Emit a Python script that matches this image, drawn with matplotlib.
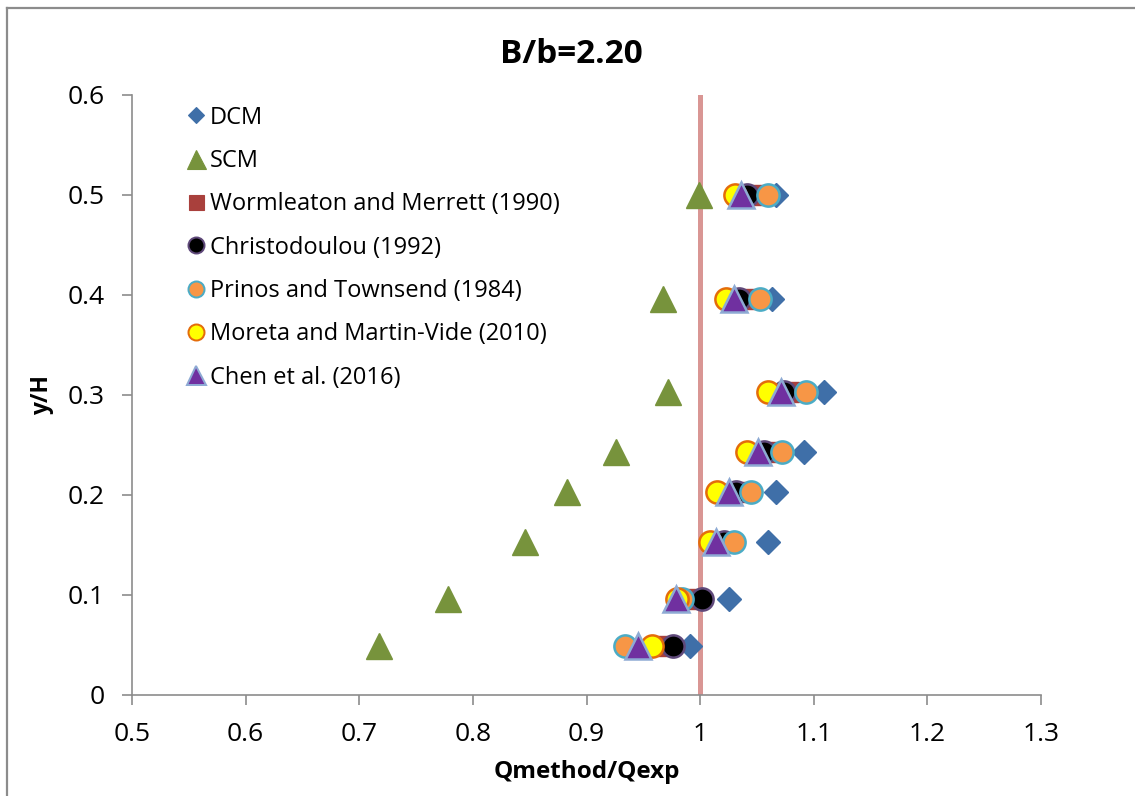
import matplotlib
matplotlib.use('Agg')
import matplotlib.pyplot as plt
from matplotlib.lines import Line2D

plt.rcParams['font.family'] = ['Open Sans', 'DejaVu Sans']

# relative depth y/H for each measured point
yH = [0.049, 0.096, 0.153, 0.203, 0.243, 0.303, 0.396, 0.500]

# Qmethod/Qexp for each method
dcm = [0.991, 1.025, 1.060, 1.067, 1.091, 1.109, 1.063, 1.067]
scm = [0.717, 0.778, 0.846, 0.883, 0.926, 0.972, 0.967, 0.999]
wormleaton = [0.967, 0.990, 1.025, 1.035, 1.058, 1.078, 1.040, 1.049]
christodoulou = [0.976, 1.002, 1.021, 1.032, 1.056, 1.074, 1.034, 1.041]
prinos = [0.934, 0.984, 1.030, 1.045, 1.072, 1.093, 1.053, 1.060]
moreta = [0.958, 0.980, 1.009, 1.015, 1.041, 1.060, 1.023, 1.031]
chen = [0.945, 0.979, 1.014, 1.025, 1.051, 1.071, 1.030, 1.036]

labels = ['DCM', 'SCM', 'Wormleaton and Merrett (1990)', 'Christodoulou (1992)',
          'Prinos and Townsend (1984)', 'Moreta and Martin-Vide (2010)',
          'Chen et al. (2016)']

# marker, size, face, edge, edge width
styles = [
    ('D', 12, '#3f6fa8', '#3f6fa8', 1.0),
    ('^', 19, '#77933c', '#77933c', 1.0),
    ('s', 15, '#a9403c', '#a9403c', 1.0),
    ('o', 16, '#000000', '#5f497a', 1.8),
    ('o', 16, '#f79646', '#4bacc6', 1.8),
    ('o', 16, '#ffff00', '#e46c0a', 1.8),
    ('^', 19, '#7030a0', '#8eaad4', 1.8),
]
series = [dcm, scm, wormleaton, christodoulou, prinos, moreta, chen]

fig = plt.figure(figsize=(11.35, 7.96), dpi=100)
ax = fig.add_axes([0.1163, 0.1269, 0.8009, 0.7538])

# reference line Qmethod = Qexp
ax.axvline(1.0, color='#d99694', lw=3.6, zorder=1)

for vals, (m, ms, fc, ec, ew) in zip(series, styles):
    ax.plot(vals, yH, ls='none', marker=m, ms=ms, mfc=fc, mec=ec, mew=ew, zorder=3)

ax.set_xlim(0.5, 1.3)
ax.set_ylim(0, 0.6)
ax.set_xticks([0.5, 0.6, 0.7, 0.8, 0.9, 1.0, 1.1, 1.2, 1.3])
ax.set_xticklabels(['0.5', '0.6', '0.7', '0.8', '0.9', '1', '1.1', '1.2', '1.3'])
ax.set_yticks([0, 0.1, 0.2, 0.3, 0.4, 0.5, 0.6])
ax.set_yticklabels(['0', '0.1', '0.2', '0.3', '0.4', '0.5', '0.6'])
ax.tick_params(direction='out', length=7.5, width=1.2, color='#8c8c8c',
               labelsize=19, pad=12)
for s in ['top', 'right']:
    ax.spines[s].set_visible(False)
for s in ['left', 'bottom']:
    ax.spines[s].set_color('#8c8c8c')
    ax.spines[s].set_linewidth(1.2)

ax.set_xlabel('Qmethod/Qexp', fontsize=17.5, fontweight='bold', labelpad=9)
ax.set_ylabel('y/H', fontsize=16.5, fontweight='bold', labelpad=10)
fig.text(0.503, 0.932, 'B/b=2.20', fontsize=24, fontweight='bold',
         ha='center', va='center')

# smaller markers in the legend
handles = []
for (m, ms, fc, ec, ew) in styles:
    handles.append(Line2D([], [], ls='none', marker=m, ms=ms * 0.72,
                          mfc=fc, mec=ec, mew=ew * 0.8))
ax.legend(handles, labels, loc='upper left', bbox_to_anchor=(0.04, 1.006),
          frameon=False, fontsize=17, handletextpad=0.05, labelspacing=0.82,
          handlelength=1.1, borderaxespad=0.2)

# chart area border
fig.add_artist(Line2D([0.0062, 0.0062], [0, 0.99], color='#8c8c8c', lw=1.6,
                      transform=fig.transFigure))
fig.add_artist(Line2D([0.0062, 1.0], [0.99, 0.99], color='#8c8c8c', lw=1.6,
                      transform=fig.transFigure))

fig.savefig('out.png', dpi=100)
